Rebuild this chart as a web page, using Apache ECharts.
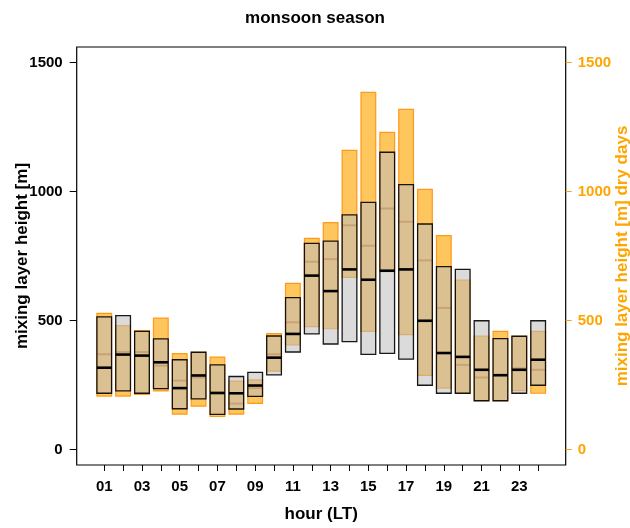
<!DOCTYPE html>
<html>
<head>
<meta charset="utf-8">
<script src="https://cdn.jsdelivr.net/npm/echarts@6/dist/echarts.min.js"></script>
<style>html,body{margin:0;padding:0;background:#fff}#c{width:630px;height:528px}</style>
</head>
<body>
<div id="c"></div>
<script>
// hours 1..24
const hours = [1,2,3,4,5,6,7,8,9,10,11,12,13,14,15,16,17,18,19,20,21,22,23,24];
// all days (gray boxes): lower quartile, median, upper quartile
const allLow  = [218,227,218,236,158,196,136,157,206,289,378,448,409,418,369,373,350,249,218,218,189,189,218,249];
const allMed  = [317,368,364,338,238,287,219,218,248,356,448,674,614,698,658,693,698,499,374,359,309,288,309,348];
const allHigh = [514,519,458,429,348,377,328,283,299,440,589,799,808,909,958,1152,1027,874,709,698,499,430,439,499];
// dry days (orange boxes)
const dryLow  = [207,207,214,227,137,168,128,137,179,304,405,476,468,667,458,689,445,287,238,218,189,189,228,218];
const dryMed  = [369,378,378,325,267,279,222,178,238,369,493,728,738,869,790,934,883,733,549,328,279,288,315,309];
const dryHigh = [528,480,461,509,372,377,358,265,270,449,644,818,879,1159,1384,1229,1318,1008,829,657,440,458,439,458];
const yTicks = [0,500,1000,1500];
const xTicks = hours;
const xLabels = [1,3,5,7,9,11,13,15,17,19,21,23];

const font = "'Liberation Sans', Arial, Helvetica, sans-serif";
const chart = echarts.init(document.getElementById('c'), null, {renderer:'canvas'});

function boxRenderer(fill, stroke, strokeW, medColor, medW) {
  return function (params, api) {
    const x = api.value(0);
    const lo = api.coord([x, api.value(1)]);
    const md = api.coord([x, api.value(2)]);
    const hi = api.coord([x, api.value(3)]);
    const w = api.size([0.78, 0])[0];
    const cx = lo[0];
    return {
      type: 'group',
      children: [
        {type:'rect', shape:{x:cx-w/2, y:hi[1], width:w, height:lo[1]-hi[1]},
         style:{fill:fill, stroke:stroke, lineWidth:strokeW}},
        {type:'line', shape:{x1:cx-w/2, y1:md[1], x2:cx+w/2, y2:md[1]},
         style:{stroke:medColor, lineWidth:medW}}
      ]
    };
  };
}

const dryData = hours.map((h,i)=>[h, dryLow[i], dryMed[i], dryHigh[i]]);
const allData = hours.map((h,i)=>[h, allLow[i], allMed[i], allHigh[i]]);

chart.setOption({
  animation:false,
  backgroundColor:'#fff',
  title:{text:'monsoon season', left:'center', top:5,
    textStyle:{fontFamily:font, fontSize:17, fontWeight:'bold', color:'#000'}},
  grid:{left:76.7, right:64.3, top:47, bottom:63, show:true, borderColor:'#000', borderWidth:1.2,
    containLabel:false, outerBoundsMode:'none'},
  xAxis:{type:'value', min:-0.46, max:25.46,
    name:'hour (LT)', nameLocation:'middle', nameGap:41, nameMoveOverlap:false,
    nameTextStyle:{fontFamily:font, fontSize:17, fontWeight:'bold', color:'#000'},
    axisLine:{show:false, onZero:false}, splitLine:{show:false},
    axisTick:{show:true, customValues:xTicks, length:6, inside:false, lineStyle:{color:'#000', width:1}},
    axisLabel:{customValues:xLabels, margin:14, fontFamily:font, fontSize:15, fontWeight:'bold', color:'#000',
      formatter:v=>String(v).padStart(2,'0')}},
  yAxis:[
    {type:'value', min:-60, max:1560, position:'left',
     name:'mixing layer height [m]', nameLocation:'middle', nameGap:46, nameRotate:90, nameMoveOverlap:false,
     nameTextStyle:{fontFamily:font, fontSize:17, fontWeight:'bold', color:'#000'},
     axisLine:{show:false, onZero:false}, splitLine:{show:false},
     axisTick:{show:true, customValues:yTicks, length:7, lineStyle:{color:'#000', width:1}},
     axisLabel:{customValues:yTicks, margin:14, fontFamily:font, fontSize:15, fontWeight:'bold', color:'#000',
       formatter:v=>String(v)}},
    {type:'value', min:-60, max:1560, position:'right',
     name:'mixing layer height [m] dry days', nameLocation:'middle', nameGap:48, nameRotate:90, nameMoveOverlap:false,
     nameTextStyle:{fontFamily:font, fontSize:17, fontWeight:'bold', color:'#FFA500'},
     axisLine:{show:false, onZero:false}, splitLine:{show:false},
     axisTick:{show:true, customValues:yTicks, length:6, lineStyle:{color:'#FFA500', width:1}},
     axisLabel:{customValues:yTicks, margin:12, fontFamily:font, fontSize:15, fontWeight:'bold', color:'#FFA500',
       formatter:v=>String(v)}}
  ],
  series:[
    {type:'custom', name:'dry days', yAxisIndex:0, data:dryData,
     renderItem:boxRenderer('rgba(255,165,0,0.63)', 'rgba(255,140,0,0.85)', 1.2, 'rgb(215,130,30)', 2)},
    {type:'custom', name:'all days', yAxisIndex:0, data:allData,
     renderItem:boxRenderer('rgba(190,190,190,0.55)', 'rgba(0,0,0,0.9)', 1.3, '#000', 2.6)}
  ]
});
</script>
</body>
</html>
